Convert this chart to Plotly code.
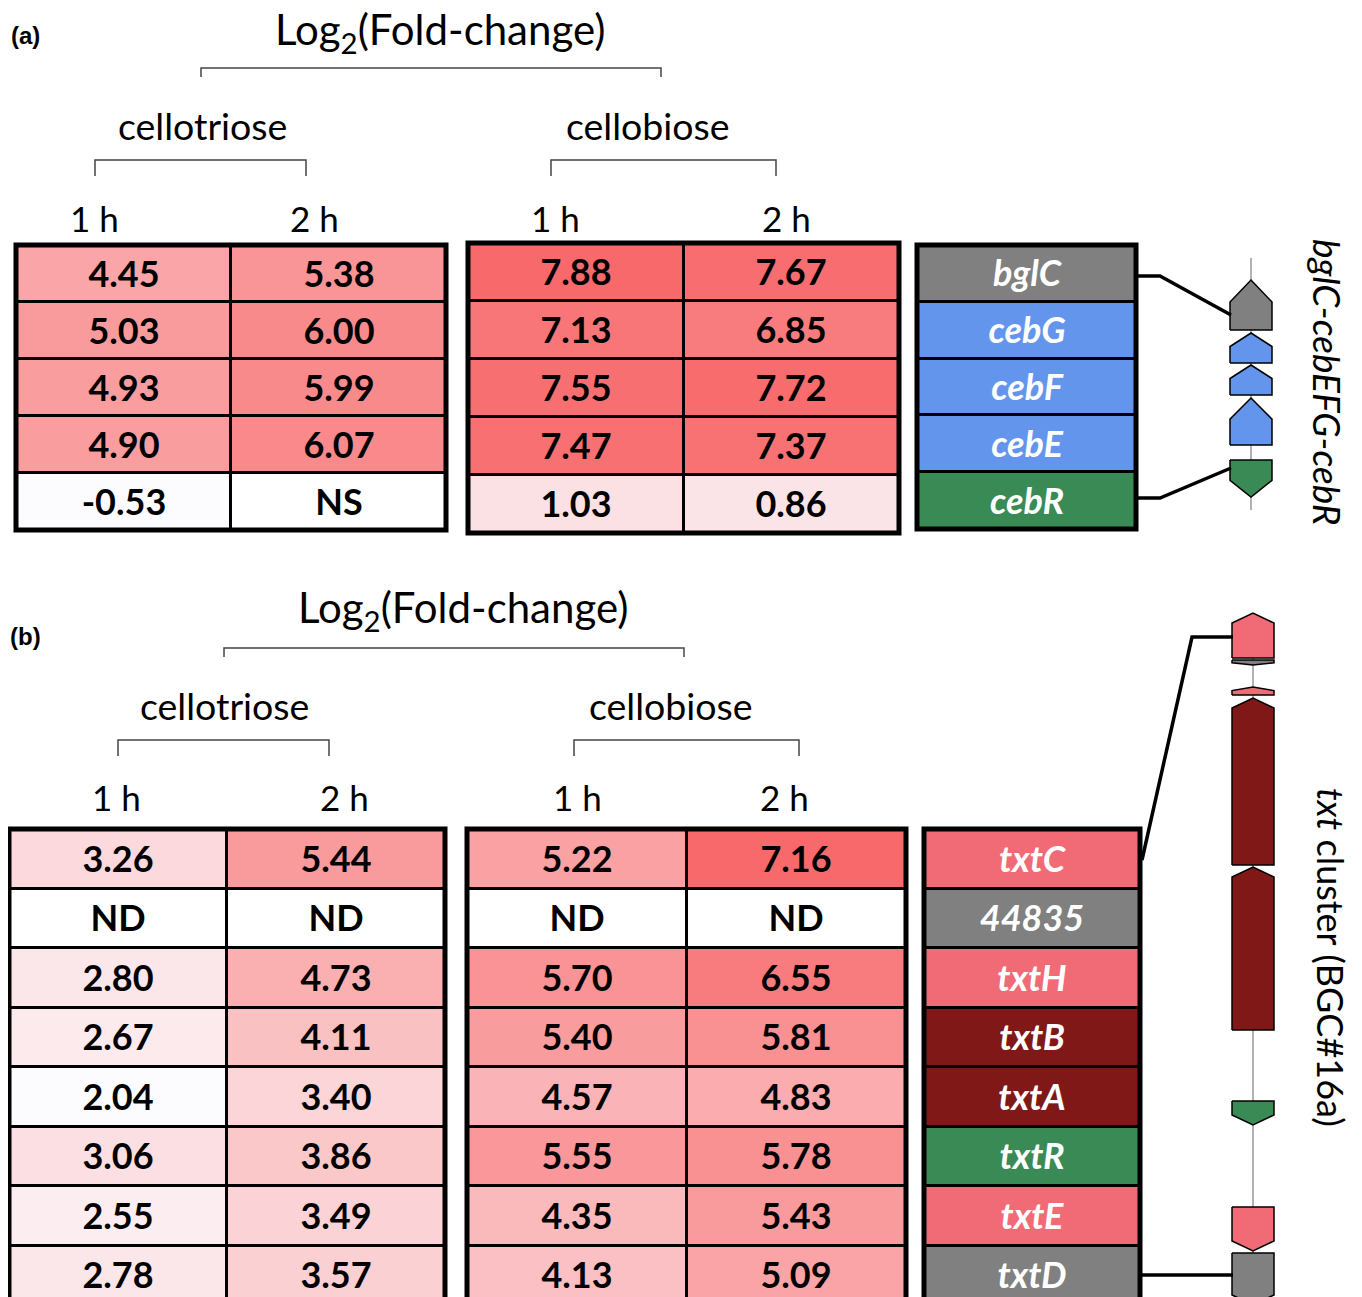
import plotly.graph_objects as go

W, H = 1362, 1297
OFF = 8  # page margin around the figure

# ---------------- data ----------------
timepoints = ["1 h", "2 h"]

# panel (a)
genes_a = ["bglC", "cebG", "cebF", "cebE", "cebR"]
func_a = ["other", "transport", "transport", "transport", "regulator"]
a_cellotriose_1h = [4.45, 5.03, 4.93, 4.90, -0.53]
a_cellotriose_2h = [5.38, 6.00, 5.99, 6.07, None]   # NS
a_cellobiose_1h = [7.88, 7.13, 7.55, 7.47, 1.03]
a_cellobiose_2h = [7.67, 6.85, 7.72, 7.37, 0.86]
a_missing_label = "NS"

# panel (b)
genes_b = ["txtC", "44835", "txtH", "txtB", "txtA", "txtR", "txtE", "txtD"]
func_b = ["tailoring", "other", "tailoring", "core", "core", "regulator", "tailoring", "other"]
b_cellotriose_1h = [3.26, None, 2.80, 2.67, 2.04, 3.06, 2.55, 2.78]
b_cellotriose_2h = [5.44, None, 4.73, 4.11, 3.40, 3.86, 3.49, 3.57]
b_cellobiose_1h = [5.22, None, 5.70, 5.40, 4.57, 5.55, 4.35, 4.13]
b_cellobiose_2h = [7.16, None, 6.55, 5.81, 4.83, 5.78, 5.43, 5.09]
b_missing_label = "ND"

# gene maps (map units along locus; strand -1 = pointing up, +1 = pointing down)
map_a_start = [30, 83, 115, 148, 210]
map_a_end = [80, 113, 145, 195, 247]
map_a_strand = [-1, -1, -1, -1, 1]
map_a_extent = [8, 260]

map_b_start = [8, 55, 82, 93, 262, 496, 602, 648]
map_b_end = [53, 60, 90, 260, 425, 520, 646, 700]
map_b_strand = [-1, 1, -1, -1, -1, 1, 1, 1]
map_b_extent = [8, 700]

func_colors = {
    "other": "#808080",
    "transport": "#6495ED",
    "regulator": "#3A8A56",
    "tailoring": "#F06B76",
    "core": "#801818",
}
func_order = list(func_colors)

FONT = "Lato"


def px(x):
    return (x - OFF) / W


def py(y):
    return 1 - (y - OFF) / H


def clamp(v):
    return min(1.0, max(0.0, v))


fig = go.Figure()
layout_axes = {}
shapes = []
annotations = []


def axname(i):
    return "" if i == 1 else str(i)


def add_axes(i, x0, x1, y0, y1, xkw=None, ykw=None):
    n = axname(i)
    xa = dict(domain=[clamp(px(x0)), clamp(px(x1))], anchor=f"y{n}", visible=False, fixedrange=True)
    ya = dict(domain=[clamp(py(y1)), clamp(py(y0))], anchor=f"x{n}", visible=False, fixedrange=True)
    if xkw:
        xa.update(xkw)
    if ykw:
        ya.update(ykw)
    layout_axes[f"xaxis{n}"] = xa
    layout_axes[f"yaxis{n}"] = ya
    return f"x{n}", f"y{n}"


def border(i, bottom=0.0):
    n = axname(i)
    shapes.append(dict(type="rect", xref=f"x{n} domain", yref=f"y{n} domain",
                       x0=0, x1=1, y0=bottom, y1=1,
                       line=dict(color="black", width=5), layer="above"))


def value_table(i, cols, genes, zmin, zmax, missing_label, box):
    xa, ya = add_axes(i, *box, xkw=dict(type="category", range=[-0.5, 1.5]),
                      ykw=dict(type="category", range=[len(genes) - 0.5, -0.5]))
    z = [[cols[c][r] for c in range(len(cols))] for r in range(len(genes))]
    text = [["<b>%.2f</b>" % v if v is not None else " " for v in row] for row in z]
    fig.add_trace(go.Heatmap(
        z=z, x=timepoints, y=genes, text=text, texttemplate="%{text}",
        colorscale=[[0, "#FCFCFF"], [1, "#F8696B"]], zmin=zmin, zmax=zmax,
        showscale=False, xgap=3, ygap=3, hoverinfo="skip",
        textfont=dict(family=FONT, size=36, color="black"),
        xaxis=xa, yaxis=ya))
    if any(v is None for row in z for v in row):
        mz = [[1 if v is None else None for v in row] for row in z]
        mt = [["<b>%s</b>" % missing_label if v is None else " " for v in row] for row in z]
        fig.add_trace(go.Heatmap(
            z=mz, x=timepoints, y=genes, text=mt, texttemplate="%{text}",
            colorscale=[[0, "white"], [1, "white"]], zmin=0, zmax=1,
            showscale=False, xgap=3, ygap=3, hoverinfo="skip",
            textfont=dict(family=FONT, size=36, color="black"),
            xaxis=xa, yaxis=ya))
    border(i, bottom=-0.05 if box[3] >= H else 0.0)


def gene_table(i, genes, funcs, box):
    xa, ya = add_axes(i, *box, xkw=dict(type="category", range=[-0.5, 0.5]),
                      ykw=dict(type="category", range=[len(genes) - 0.5, -0.5]))
    nf = len(func_order)
    cs = []
    for k, f in enumerate(func_order):
        cs += [[k / nf, func_colors[f]], [(k + 1) / nf, func_colors[f]]]
    z = [[func_order.index(f)] for f in funcs]
    text = [["<b><i>%s</i></b>" % g] for g in genes]
    fig.add_trace(go.Heatmap(
        z=z, x=["gene"], y=genes, text=text, texttemplate="%{text}",
        colorscale=cs, zmin=-0.5, zmax=nf - 0.5, showscale=False,
        xgap=3, ygap=3, hoverinfo="skip",
        textfont=dict(family=FONT, size=36, color="white"),
        xaxis=xa, yaxis=ya))
    border(i, bottom=-0.05 if box[3] >= H else 0.0)


def gene_map(i, starts, ends, strands, funcs, extent, box, span, head_cap):
    xa, ya = add_axes(i, *box, xkw=dict(range=[-1, 1]), ykw=dict(range=[span, 0]))
    n = axname(i)
    shapes.append(dict(type="rect", xref=f"x{n} domain", yref=f"y{n} domain",
                       x0=0, x1=1, y0=0, y1=1, fillcolor="white",
                       line=dict(width=0), layer="below"))
    fig.add_trace(go.Scatter(x=[0, 0], y=extent, mode="lines",
                             line=dict(color="#9a9a9a", width=1.5),
                             hoverinfo="skip", showlegend=False, xaxis=xa, yaxis=ya))
    hw = 0.42
    for s, e, st, f in zip(starts, ends, strands, funcs):
        h = min(0.45 * (e - s), head_cap)
        xs = [-hw, -hw, 0, hw, hw, -hw]
        if st < 0:
            ys = [e, s + h, s, s + h, e, e]
        else:
            ys = [s, e - h, e, e - h, s, s]
        fig.add_trace(go.Scatter(x=xs, y=ys, mode="lines", fill="toself",
                                 fillcolor=func_colors[f],
                                 line=dict(color="black", width=1.5),
                                 hoverinfo="skip", showlegend=False,
                                 xaxis=xa, yaxis=ya))


# ---- panel (a)
a_vals = [v for col in (a_cellotriose_1h, a_cellotriose_2h, a_cellobiose_1h, a_cellobiose_2h)
          for v in col if v is not None]
a_min, a_max = min(a_vals), max(a_vals)
value_table(1, [a_cellotriose_1h, a_cellotriose_2h], genes_a, a_min, a_max, a_missing_label,
            (16, 446, 245, 530))
value_table(2, [a_cellobiose_1h, a_cellobiose_2h], genes_a, a_min, a_max, a_missing_label,
            (468, 899, 243, 533))
gene_table(3, genes_a, func_a, (917, 1136, 245, 529))
gene_map(4, map_a_start, map_a_end, map_a_strand, func_a, map_a_extent,
         (1201, 1301, 250, 520), 270, 22)

# ---- panel (b)
b_vals = [v for col in (b_cellotriose_1h, b_cellotriose_2h, b_cellobiose_1h, b_cellobiose_2h)
          for v in col if v is not None]
b_min, b_max = min(b_vals), max(b_vals)
BOT = H + OFF
value_table(5, [b_cellotriose_1h, b_cellotriose_2h], genes_b, b_min, b_max, b_missing_label,
            (9, 445, 829, BOT))
value_table(6, [b_cellobiose_1h, b_cellobiose_2h], genes_b, b_min, b_max, b_missing_label,
            (467, 906, 829, BOT))
gene_table(7, genes_b, func_b, (924, 1140, 829, BOT))
gene_map(8, map_b_start, map_b_end, map_b_strand, func_b, map_b_extent,
         (1203, 1303, 605, BOT), BOT - 605, 10)


# ---- decorations
def bracket(x0, x1, y, drop):
    shapes.append(dict(type="path", xref="paper", yref="paper",
                       path=f"M {px(x0)},{py(y + drop)} L {px(x0)},{py(y)} L {px(x1)},{py(y)} L {px(x1)},{py(y + drop)}",
                       line=dict(color="#444444", width=1.5)))


def connector(points):
    d = "M " + " L ".join(f"{px(x)},{py(y)}" for x, y in points)
    shapes.append(dict(type="path", xref="paper", yref="paper", path=d,
                       line=dict(color="black", width=3.5)))


def label(text, x, y, size, angle=0, family=FONT, color="black"):
    annotations.append(dict(text=text, x=px(x), y=py(y), xref="paper", yref="paper",
                            showarrow=False, xanchor="center", yanchor="middle",
                            textangle=angle, font=dict(family=family, size=size, color=color)))


for top, dx in ((0, 0), (1, 23)):
    oy = 580 * top
    label("<b>(%s)</b>" % ("b" if top else "a"), 25, 36 + 600 * top, 24, family="Liberation Sans")
    label("Log<sub>2</sub>(Fold-change)", 440 + dx, 32 + oy - (2 if top else 0), 42)
    bracket(201 + dx, 661 + dx, 68 + oy, 9)
    label("cellotriose", 202 + dx, 126 + oy, 37.5)
    label("cellobiose", 648 + dx, 126 + oy, 37.5)
    bracket(95 + dx, 306 + dx, 160 + oy, 16)
    bracket(551 + dx, 776 + dx, 160 + oy, 16)

for x, t in zip((94, 314, 555, 786), timepoints * 2):
    label(t, x, 218, 35)
for x, t in zip((116, 344, 577, 784), timepoints * 2):
    label(t, x, 797, 35)

label("<i>bglC-cebEFG-cebR</i>", 1328, 382, 37, angle=90)
label("<i>txt</i> cluster (BGC#16a)", 1331, 957, 36, angle=90)

connector([(1138, 276), (1160, 276), (1231, 315)])
connector([(1138, 498), (1160, 498), (1231, 468)])
connector([(1142, 860), (1192, 637), (1233, 637)])
connector([(1140, 1275), (1233, 1275)])

fig.update_layout(
    width=W, height=H, margin=dict(l=0, r=0, t=0, b=0),
    paper_bgcolor="white", plot_bgcolor="black",
    showlegend=False, shapes=shapes, annotations=annotations,
    font=dict(family=FONT),
    **layout_axes,
)

fig.write_html("out.html")
